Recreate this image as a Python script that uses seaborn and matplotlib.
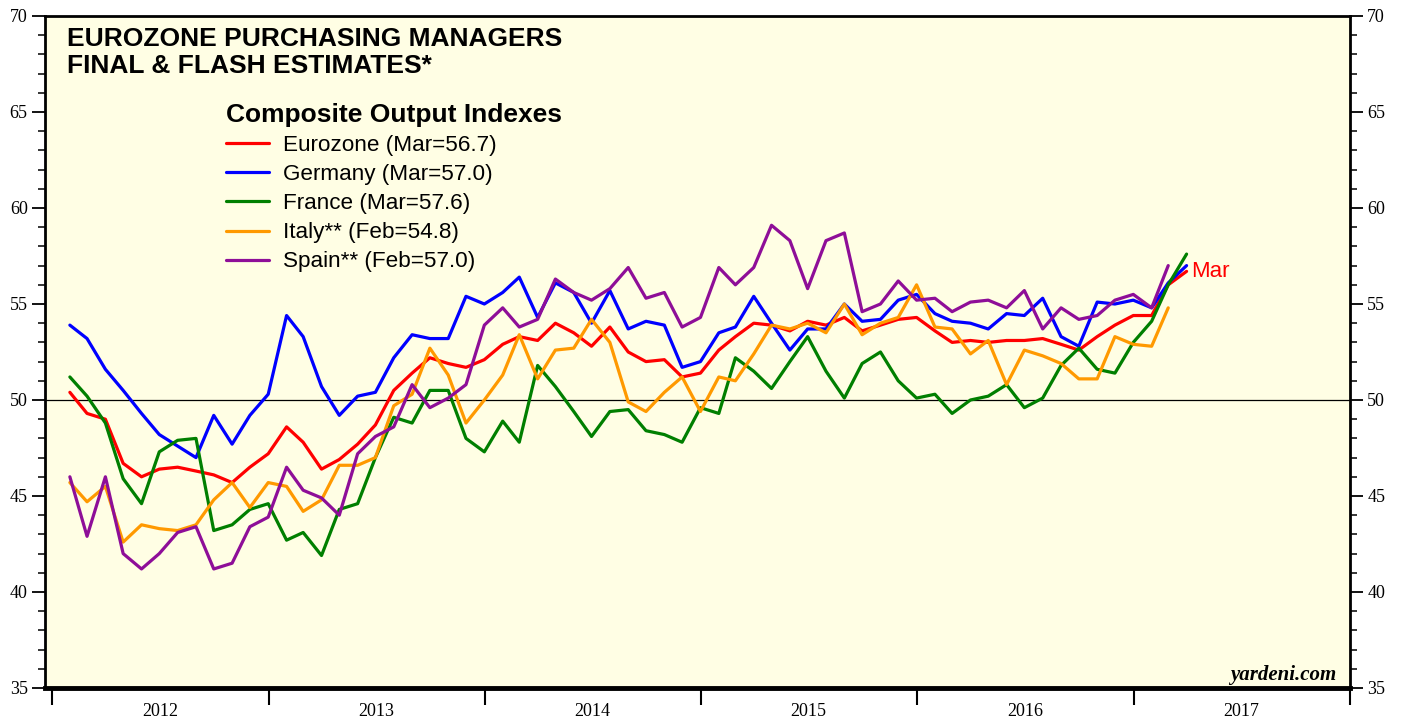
import matplotlib
matplotlib.use("Agg")
import matplotlib.pyplot as plt
import matplotlib.dates as mdates
from matplotlib.ticker import MultipleLocator, NullFormatter
import pandas as pd
import seaborn as sns

# monthly composite output PMI, Jan 2012 onwards
eurozone = [50.4, 49.3, 49.0, 46.7, 46.0, 46.4, 46.5, 46.3, 46.1, 45.7, 46.5, 47.2,
            48.6, 47.8, 46.4, 46.9, 47.7, 48.7, 50.5, 51.4, 52.2, 51.9, 51.7, 52.1,
            52.9, 53.3, 53.1, 54.0, 53.5, 52.8, 53.8, 52.5, 52.0, 52.1, 51.2, 51.4,
            52.6, 53.3, 54.0, 53.9, 53.6, 54.1, 53.9, 54.3, 53.6, 53.9, 54.2, 54.3,
            53.6, 53.0, 53.1, 53.0, 53.1, 53.1, 53.2, 52.9, 52.6, 53.3, 53.9, 54.4,
            54.4, 56.0, 56.7]
germany = [53.9, 53.2, 51.6, 50.5, 49.3, 48.2, 47.6, 47.0, 49.2, 47.7, 49.2, 50.3,
           54.4, 53.3, 50.7, 49.2, 50.2, 50.4, 52.2, 53.4, 53.2, 53.2, 55.4, 55.0,
           55.6, 56.4, 54.3, 56.1, 55.6, 54.0, 55.7, 53.7, 54.1, 53.9, 51.7, 52.0,
           53.5, 53.8, 55.4, 54.0, 52.6, 53.7, 53.7, 55.0, 54.1, 54.2, 55.2, 55.5,
           54.5, 54.1, 54.0, 53.7, 54.5, 54.4, 55.3, 53.3, 52.8, 55.1, 55.0, 55.2,
           54.8, 56.1, 57.0]
france = [51.2, 50.2, 48.8, 45.9, 44.6, 47.3, 47.9, 48.0, 43.2, 43.5, 44.3, 44.6,
          42.7, 43.1, 41.9, 44.3, 44.6, 47.0, 49.1, 48.8, 50.5, 50.5, 48.0, 47.3,
          48.9, 47.8, 51.8, 50.7, 49.4, 48.1, 49.4, 49.5, 48.4, 48.2, 47.8, 49.6,
          49.3, 52.2, 51.5, 50.6, 52.0, 53.3, 51.5, 50.1, 51.9, 52.5, 51.0, 50.1,
          50.3, 49.3, 50.0, 50.2, 50.8, 49.6, 50.1, 51.8, 52.7, 51.6, 51.4, 53.0,
          54.1, 56.0, 57.6]
italy = [45.7, 44.7, 45.5, 42.6, 43.5, 43.3, 43.2, 43.5, 44.8, 45.7, 44.4, 45.7,
         45.5, 44.2, 44.8, 46.6, 46.6, 47.0, 49.7, 50.3, 52.7, 51.3, 48.8, 50.0,
         51.3, 53.4, 51.1, 52.6, 52.7, 54.2, 53.0, 49.9, 49.4, 50.4, 51.2, 49.4,
         51.2, 51.0, 52.4, 53.9, 53.7, 54.0, 53.5, 55.0, 53.4, 54.0, 54.3, 56.0,
         53.8, 53.7, 52.4, 53.1, 50.8, 52.6, 52.3, 51.9, 51.1, 51.1, 53.3, 52.9,
         52.8, 54.8]
spain = [46.0, 42.9, 46.0, 42.0, 41.2, 42.0, 43.1, 43.4, 41.2, 41.5, 43.4, 43.9,
         46.5, 45.3, 44.9, 44.0, 47.2, 48.1, 48.6, 50.8, 49.6, 50.1, 50.8, 53.9,
         54.8, 53.8, 54.2, 56.3, 55.6, 55.2, 55.8, 56.9, 55.3, 55.6, 53.8, 54.3,
         56.9, 56.0, 56.9, 59.1, 58.3, 55.8, 58.3, 58.7, 54.6, 55.0, 56.2, 55.2,
         55.3, 54.6, 55.1, 55.2, 54.8, 55.7, 53.7, 54.8, 54.2, 54.4, 55.2, 55.5,
         54.8, 57.0]

labels = ["Eurozone (Mar=56.7)", "Germany (Mar=57.0)", "France (Mar=57.6)",
          "Italy** (Feb=54.8)", "Spain** (Feb=57.0)"]
colors = ["#ff0000", "#0000ff", "#007f00", "#ff9900", "#8e0e98"]

frames = []
for name, values in zip(labels, [eurozone, germany, france, italy, spain]):
    dates = pd.date_range("2012-01-31", periods=len(values), freq="ME")
    frames.append(pd.DataFrame({"date": dates, "value": values, "series": name}))
df = pd.concat(frames, ignore_index=True)

sns.set_theme(style="ticks")
plt.rcParams["font.family"] = ["Liberation Sans", "DejaVu Sans"]
plt.rcParams["text.color"] = "black"

fig = plt.figure(figsize=(14.07, 7.19), dpi=100)
ax = fig.add_axes([45 / 1407, 31 / 719, 1305 / 1407, 672 / 719])
ax.set_facecolor("#fffee4")

sns.lineplot(data=df, x="date", y="value", hue="series", hue_order=labels,
             palette=dict(zip(labels, colors)), linewidth=2.3, ax=ax)
ax.axhline(50, color="black", linewidth=0.9, zorder=1)

ax.set_xlim(pd.Timestamp("2011-12-20"), pd.Timestamp("2018-01-01"))
ax.set_ylim(35, 70)
ax.set_xlabel("")
ax.set_ylabel("")

# years: long ticks at year boundaries, labels centred mid-year
ax.xaxis.set_major_locator(mdates.YearLocator())
ax.xaxis.set_major_formatter(NullFormatter())
ax.xaxis.set_minor_locator(mdates.MonthLocator(bymonth=7, bymonthday=1))
ax.xaxis.set_minor_formatter(mdates.DateFormatter("%Y"))
ax.tick_params(axis="x", which="major", direction="out", length=12, width=1.5, color="black")
ax.tick_params(axis="x", which="minor", length=0, pad=11, labelsize=13,
               labelfontfamily="Liberation Serif", labelcolor="black")

ax.yaxis.set_major_locator(MultipleLocator(5))
ax.yaxis.set_minor_locator(MultipleLocator(1))
ax.tick_params(axis="y", which="both", direction="out", left=True, right=True,
               labelleft=True, labelright=True, color="black")
ax.tick_params(axis="y", which="major", length=9.5, width=1.3, pad=3, labelsize=13,
               labelfontfamily="Liberation Serif", labelcolor="black")
ax.tick_params(axis="y", which="minor", length=5, width=1.1)

for side in ["top", "left", "right"]:
    ax.spines[side].set_linewidth(2)
    ax.spines[side].set_color("black")
ax.spines["bottom"].set_linewidth(3.5)
ax.spines["bottom"].set_color("black")

ax.text(0.0169, 0.9554, "EUROZONE PURCHASING MANAGERS", transform=ax.transAxes,
        fontsize=19, fontweight="bold", va="baseline", color="black")
ax.text(0.0169, 0.9152, "FINAL & FLASH ESTIMATES*", transform=ax.transAxes,
        fontsize=19, fontweight="bold", va="baseline", color="black")

sns.move_legend(ax, "upper left", bbox_to_anchor=((226 - 45) / 1305, (688 - 103) / 672),
                title="Composite Output Indexes", frameon=False, fontsize=16.2,
                title_fontproperties={"weight": "bold", "size": 19},
                alignment="left", handlelength=1.9, handletextpad=0.65,
                labelspacing=0.36, borderpad=0, borderaxespad=0, labelcolor="black")
leg = ax.get_legend()
leg.get_title().set_color("black")
for h in leg.legend_handles:
    h.set_linewidth(2.3)

ax.annotate("Mar", xy=(pd.Timestamp("2017-03-31"), eurozone[-1]), xytext=(3, 0),
            textcoords="offset points", color="#ff0000", fontsize=16, va="center")
ax.text(0.9893, 0.012, "yardeni.com", transform=ax.transAxes, ha="right", va="baseline",
        fontfamily="Liberation Serif", fontweight="bold", fontstyle="italic", fontsize=15,
        color="black")

fig.savefig("out.png", dpi=100)
plt.close(fig)
